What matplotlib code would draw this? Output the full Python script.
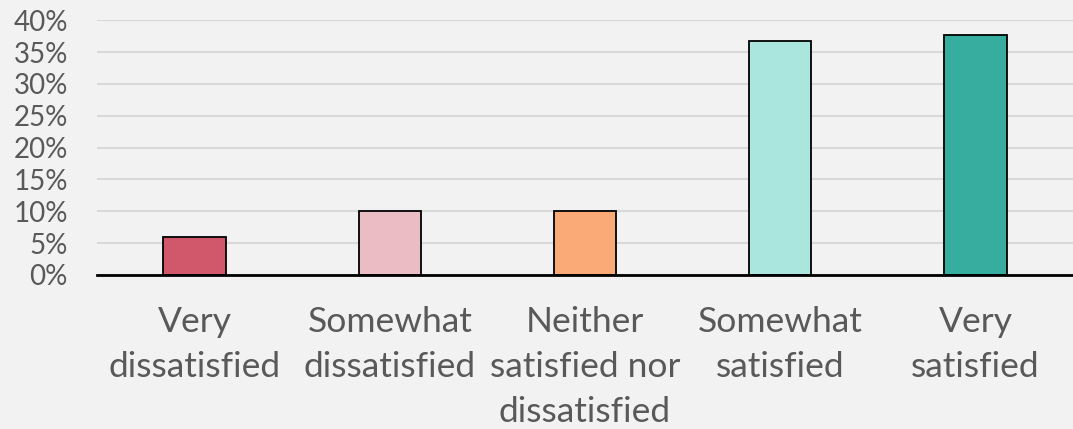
import numpy as np
import matplotlib.pyplot as plt
from matplotlib.ticker import PercentFormatter

# Survey satisfaction shares (percent)
categories = ['Very\ndissatisfied', 'Somewhat\ndissatisfied', 'Neither\nsatisfied nor\ndissatisfied',
              'Somewhat\nsatisfied', 'Very\nsatisfied']
shares = [6.0, 10.0, 10.0, 36.7, 37.6]
colors = ['#d1576a', '#ebbcc4', '#f9aa77', '#aae5de', '#37ad9f']
y_ticks = [0, 5, 10, 15, 20, 25, 30, 35, 40]

plt.rcParams['font.family'] = ['Lato', 'DejaVu Sans']
bg = '#f2f2f2'
text_color = '#595959'

fig = plt.figure(figsize=(10.73, 4.29), dpi=100, facecolor=bg)
ax = fig.add_axes([0.0904, 0.359, 0.9096, 0.594], facecolor=bg)

x = np.arange(len(categories))
ax.bar(x, shares, width=0.32, color=colors, edgecolor='black', linewidth=1.3, zorder=3)

ax.set_xlim(-0.5, len(categories) - 0.5)
ax.set_ylim(0, 40)
ax.set_yticks(y_ticks)
ax.yaxis.set_major_formatter(PercentFormatter(decimals=0))
ax.grid(axis='y', color='#d9d9d9', linewidth=1.5, zorder=0)

ax.set_xticks(x)
ax.set_xticklabels(categories, fontsize=25.5, color=text_color, linespacing=1.5)
ax.tick_params(axis='x', length=0, pad=22)
ax.tick_params(axis='y', length=0, pad=21, labelsize=20, labelcolor=text_color)

for side in ['top', 'right', 'left']:
    ax.spines[side].set_visible(False)
ax.spines['bottom'].set_color('black')
ax.spines['bottom'].set_linewidth(2)
ax.spines['bottom'].set_zorder(4)

fig.savefig('out.png', dpi=100, facecolor=bg)
